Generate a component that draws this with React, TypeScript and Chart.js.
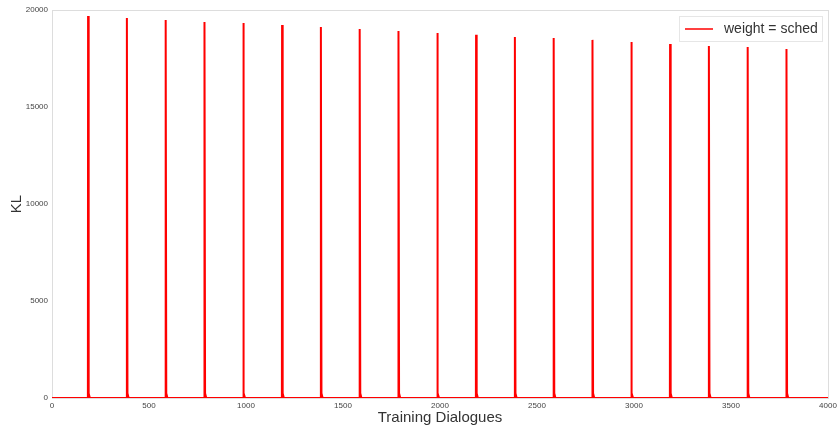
import React, { useEffect, useRef } from "react";
import { Chart, registerables } from "chart.js";

Chart.register(...registerables);

const spikePositions = [186, 386, 586, 786, 986, 1186, 1386, 1586, 1786, 1986, 2186, 2386, 2586, 2786, 2986, 3186, 3386, 3586, 3786];
const spikePeaks = [19690, 19590, 19480, 19380, 19330, 19230, 19120, 19020, 18920, 18820, 18720, 18610, 18560, 18460, 18350, 18250, 18150, 18090, 17990];
const tailOffsets = [3, 9];
const tailValues = [250, 0];
const xTicks = [0, 500, 1000, 1500, 2000, 2500, 3000, 3500, 4000];
const yTicks = [0, 5000, 10000, 15000, 20000];
const seriesLabel = "weight = sched";
const xTitle = "Training Dialogues";
const yTitle = "KL";

function buildData() {
  const pts: { x: number; y: number }[] = [{ x: 0, y: 0 }];
  spikePositions.forEach((p, i) => {
    pts.push({ x: p - 1, y: 0 });
    pts.push({ x: p, y: spikePeaks[i] });
    tailOffsets.forEach((o, j) => pts.push({ x: p + o, y: tailValues[j] }));
  });
  pts.push({ x: 4000, y: 0 });
  return pts;
}

const FONT = "'Liberation Sans', Arial, sans-serif";

const decor = {
  id: "decor",
  beforeDatasetsDraw(chart: any) {
    const { ctx, chartArea: a } = chart;
    ctx.save();
    ctx.strokeStyle = "#dddddd";
    ctx.lineWidth = 1;
    ctx.strokeRect(Math.round(a.left) + 0.5, Math.round(a.top) + 0.5, Math.round(a.right - a.left), Math.round(a.bottom - a.top));
    ctx.restore();
  },
  afterDraw(chart: any) {
    const { ctx, chartArea: a } = chart;
    ctx.save();
    ctx.fillStyle = "#333333";
    ctx.font = `15px ${FONT}`;
    ctx.textAlign = "center";
    ctx.textBaseline = "middle";
    ctx.fillText(xTitle, (a.left + a.right) / 2, 418);
    ctx.translate(17, (a.top + a.bottom) / 2);
    ctx.rotate(-Math.PI / 2);
    ctx.fillText(yTitle, 0, 0);
    ctx.restore();
    // legend
    ctx.save();
    const bx = 679, by = 16, bw = 143, bh = 25;
    ctx.fillStyle = "rgba(255,255,255,0.9)";
    ctx.fillRect(bx, by, bw, bh);
    ctx.strokeStyle = "#e6e6e6";
    ctx.lineWidth = 1;
    ctx.strokeRect(bx + 0.5, by + 0.5, bw, bh);
    ctx.strokeStyle = "#ff0000";
    ctx.lineWidth = 1.5;
    ctx.beginPath();
    ctx.moveTo(685, by + bh / 2 + 0.5);
    ctx.lineTo(713, by + bh / 2 + 0.5);
    ctx.stroke();
    ctx.fillStyle = "#333333";
    ctx.font = `14px ${FONT}`;
    ctx.textAlign = "left";
    ctx.textBaseline = "middle";
    ctx.fillText(seriesLabel, 724, by + bh / 2 + 1);
    ctx.restore();
  },
};

export default function App() {
  const ref = useRef<HTMLCanvasElement | null>(null);
  useEffect(() => {
    if (!ref.current) return;
    const chart = new Chart(ref.current, {
      type: "line",
      data: {
        datasets: [
          {
            label: seriesLabel,
            data: buildData(),
            borderColor: "#ff0000",
            borderWidth: 2,
            pointRadius: 0,
            fill: false,
            tension: 0,
          },
        ],
      },
      options: {
        animation: false,
        responsive: false,
        maintainAspectRatio: false,
        layout: { padding: { top: 10, right: 9, left: 0, bottom: 0 } },
        plugins: { legend: { display: false }, tooltip: { enabled: false } },
        scales: {
          x: {
            type: "linear",
            min: 0,
            max: 4000,
            grid: { display: false, drawTicks: false },
            border: { display: false },
            afterBuildTicks: (s: any) => {
              s.ticks = xTicks.map((v) => ({ value: v }));
            },
            afterFit: (s: any) => {
              s.height = 36;
              s.paddingLeft = 0;
              s.paddingRight = 0;
            },
            ticks: {
              padding: 3,
              maxRotation: 0,
              autoSkip: false,
              color: "#444444",
              font: { family: FONT, size: 8 },
              callback: (v: any) => String(v),
            },
          },
          y: {
            min: 0,
            max: 20000,
            grid: { display: false, drawTicks: false },
            border: { display: false },
            afterBuildTicks: (s: any) => {
              s.ticks = yTicks.map((v) => ({ value: v }));
            },
            afterFit: (s: any) => {
              s.width = 52;
              s.paddingTop = 0;
              s.paddingBottom = 0;
            },
            ticks: {
              padding: 4,
              autoSkip: false,
              color: "#444444",
              font: { family: FONT, size: 8 },
              callback: (v: any) => String(v),
            },
          },
        },
      },
      plugins: [decor],
    });
    return () => chart.destroy();
  }, []);
  return (
    <div style={{ position: "fixed", left: 0, top: 0, width: 837, height: 434, background: "#fff" }}>
      <canvas ref={ref} width={837} height={434} style={{ width: 837, height: 434 }} />
    </div>
  );
}
